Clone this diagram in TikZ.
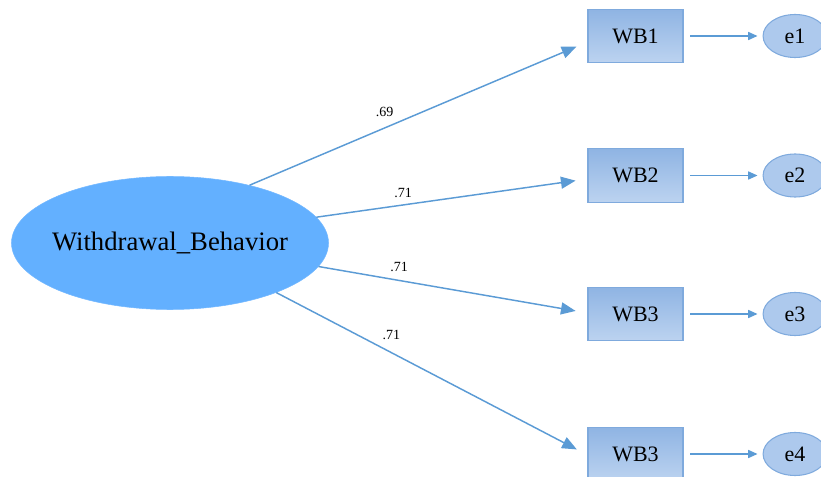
\documentclass[tikz,border=0pt]{standalone}
\usepackage{fontspec}
\setmainfont{Liberation Serif}
\usepackage{xcolor}
\usetikzlibrary{arrows.meta, shapes.geometric, positioning}

\definecolor{pathblue}{HTML}{5B9BD5}
\definecolor{latentblue}{HTML}{63B0FF}
\definecolor{boxtop}{HTML}{8FB4E3}
\definecolor{boxbot}{HTML}{BCD3F0}
\definecolor{boxedge}{HTML}{7FAADD}
\definecolor{errfill}{HTML}{ADC9ED}

\begin{document}
\begin{tikzpicture}[x = 0.75pt, y = -0.75pt,
		latent/.style = {ellipse, fill = latentblue, draw = latentblue!90!white,
			minimum width = 237.75pt, minimum height = 99.75pt,
			inner xsep = -6pt, inner ysep = 0pt,
			font = \fontsize{20}{24}\selectfont},
		indicator/.style = {rectangle, top color = boxtop, bottom color = boxbot,
			draw = boxedge, line width = 0.8pt,
			minimum width = 71.25pt, minimum height = 40pt, inner sep = 0pt,
			font = \fontsize{16.5}{20}\selectfont},
		errorterm/.style = {ellipse, fill = errfill, draw = boxedge, line width = 0.8pt,
			minimum width = 48pt, minimum height = 32.25pt, inner sep = 0pt,
			font = \fontsize{16.5}{20}\selectfont},
		loading/.style = {draw = pathblue, line width = 1.1pt,
			-{Triangle[length = 11pt, width = 9pt]}, shorten > = 9pt},
		residual/.style = {draw = pathblue, line width = 1.1pt,
			-{Triangle[length = 7pt, width = 6pt]},
			shorten < = 5pt, shorten > = 3.75pt},
		coef/.style = {inner sep = 0pt, font = \fontsize{10.5}{12}\selectfont}]
	\useasboundingbox (0,0) rectangle (821,477);

	% latent factor
	\node[latent] (lv) at (170,243) {Withdrawal\_Behavior};

	% indicators, loadings and errors
	\foreach \i/\name/\yy/\ang/\dy/\val/\ps/\up in {
			1/WB1/36/36/-4.5/.69/0.40/7.7,
			2/WB2/175.5/10/-2.6/.71/0.32/4.7,
			3/WB3/314/-9/0.75/.71/0.30/6.2,
			4/WB3/454/-25/-0.75/.71/0.37/9.2}
	{
		\node[indicator] (wb\i) at (635.5,\yy) {\name};
		\node[errorterm, right = 59.25pt of wb\i] (e\i) {e\i};
		\draw[loading] (lv.\ang) -- ([yshift = \dy pt]wb\i.west)
			node[coef, pos = \ps, above = \up pt] {\val};
		\draw[residual] (wb\i) -- (e\i);
	}
\end{tikzpicture}
\end{document}
